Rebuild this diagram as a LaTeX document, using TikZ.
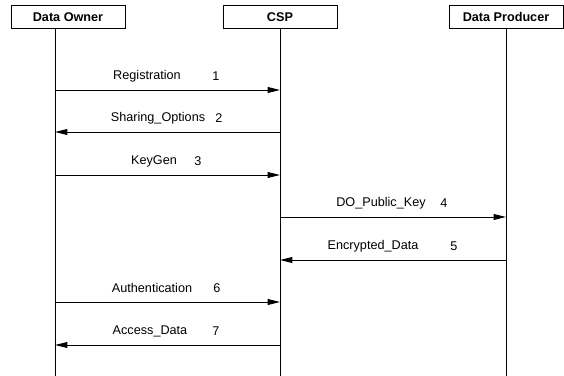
\documentclass[tikz,border=0pt]{standalone}
\usepackage{fontspec}
\setmainfont{Liberation Sans}
\usetikzlibrary{arrows.meta, positioning}
\tikzset{
  actor/.style = {draw, line width=0.8pt, minimum width=3.42cm, minimum height=0.69cm,
    inner sep=0pt, font=\fontsize{10.8}{12}\selectfont\bfseries},
  lifeline/.style = {line width=0.8pt},
  msg/.style = {line width=0.8pt, -{Triangle[length=10.5pt, width=5pt]}},
  lbl/.style = {font=\fontsize{10.8}{12}\selectfont, inner sep=0pt}
}

\begin{document}
\begin{tikzpicture}[x=0.03cm, y=-0.03cm]
  \useasboundingbox (0,0) rectangle (564,376);

  %% Participants
  \node[actor] (owner) at (68,17) {Data Owner};
  \node[actor] (csp) at (280,17) {CSP};
  \node[actor] (producer) at (506,17) {Data Producer};

  % Lifelines
  \coordinate (owner-top) at (owner.south -| 55,0);
  \coordinate (owner-end) at (55,376);
  \coordinate (csp-end) at (csp.south |- 0,376);
  \coordinate (producer-end) at (producer.south |- 0,376);
  \draw[lifeline] (owner-top) -- (owner-end);
  \draw[lifeline] (csp) -- (csp-end);
  \draw[lifeline] (producer) -- (producer-end);

  %% Messages
  \foreach \n/\y/\a/\b/\txt/\tx/\nx in {
      1/90/owner-end/csp-end/Registration/147/216,
      2/132/csp-end/owner-end/Sharing\_Options/158/219,
      3/175/owner-end/csp-end/KeyGen/154/198,
      4/217/csp-end/producer-end/DO\_Public\_Key/381/444,
      5/260/producer-end/csp-end/Encrypted\_Data/373/454,
      6/302/owner-end/csp-end/Authentication/152/217,
      7/345/csp-end/owner-end/Access\_Data/150/216} {
    \coordinate (m\n-from) at (\a |- 0,\y);
    \coordinate (m\n-to) at (\b |- 0,\y);
    \draw[msg] (m\n-from) -- (m\n-to);
    \node[lbl] (txt\n) at (\tx,\y-14) {\txt};
    \node[lbl] (num\n) at (\nx,\y-14) {\n};
  }

\end{tikzpicture}
\end{document}
